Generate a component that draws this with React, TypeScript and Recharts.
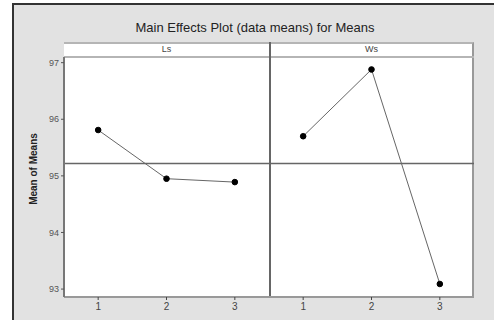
import React from 'react';
import { LineChart, Line, XAxis, YAxis, ReferenceLine } from 'recharts';

// factor levels and their data means
const levels = ['1', '2', '3'];
const lsMeans = [95.81, 94.95, 94.89];
const wsMeans = [95.7, 96.88, 93.09];
const yTicks = [93, 94, 95, 96, 97];
const panels = ['Ls', 'Ws'];

const grandMean = lsMeans.reduce((s, v) => s + v, 0) / lsMeans.length;

const chartData = [
  ...levels.map((lv, i) => ({ key: `Ls-${lv}`, level: lv, ls: lsMeans[i] })),
  ...levels.map((lv, i) => ({ key: `Ws-${lv}`, level: lv, ws: wsMeans[i] })),
];

const font = '"Liberation Sans", Arial, sans-serif';

const App: React.FC = () => {
  return (
    <div style={{ position: 'absolute', left: 0, top: 0, width: 494, height: 325, background: '#fff', fontFamily: font }}>
      {/* grey frame */}
      <div
        style={{
          position: 'absolute',
          left: 12,
          top: 3,
          width: 482,
          height: 317,
          background: '#e2e2e2',
          borderLeft: '2px solid #333',
          borderTop: '2px solid #333',
          boxSizing: 'border-box',
        }}
      />
      <div style={{ position: 'absolute', left: 0, width: 510, top: 20, textAlign: 'center', fontSize: 13, color: '#222' }}>
        Main Effects Plot (data means) for Means
      </div>
      {/* plot box with panel header strip */}
      <div
        style={{
          position: 'absolute',
          left: 64,
          top: 42,
          width: 410,
          height: 255,
          background: '#fff',
          borderTop: '2px solid #b5b5b5',
          borderRight: '2px solid #999',
          boxSizing: 'border-box',
        }}
      />
      <div style={{ position: 'absolute', left: 64, top: 56, width: 410, height: 2, background: '#b5b5b5' }} />
      <div style={{ position: 'absolute', left: 269, top: 42, width: 2, height: 255, background: '#666' }} />
      {panels.map((p, i) => (
        <div
          key={p}
          style={{ position: 'absolute', left: 64 + i * 205, width: 205, top: 44, textAlign: 'center', fontSize: 9, color: '#444' }}
        >
          {p}
        </div>
      ))}
      <div
        style={{
          position: 'absolute',
          left: 33,
          top: 169,
          transform: 'translate(-50%, -50%) rotate(-90deg)',
          whiteSpace: 'nowrap',
          fontSize: 10,
          fontWeight: 'bold',
          color: '#222',
        }}
      >
        Mean of Means
      </div>
      <div style={{ position: 'absolute', left: 0, top: 0 }}>
        <LineChart width={494} height={325} data={chartData} margin={{ top: 57, right: 20, bottom: 0, left: 0 }}>
          <XAxis
            dataKey="key"
            scale="band"
            height={28}
            tickFormatter={(v: string) => v.split('-')[1]}
            tick={{ fill: '#444', fontSize: 10, fontFamily: font }}
            tickSize={3}
            tickMargin={3}
            axisLine={{ stroke: '#999', strokeWidth: 2 }}
            tickLine={{ stroke: '#444' }}
            interval={0}
          />
          <YAxis
            width={64}
            domain={[92.86, 97.1]}
            ticks={yTicks}
            allowDataOverflow
            tick={{ fill: '#555', fontSize: 9, fontFamily: font }}
            tickSize={3}
            tickMargin={2}
            axisLine={{ stroke: '#777', strokeWidth: 2 }}
            tickLine={{ stroke: '#555' }}
          />
          <ReferenceLine y={grandMean} stroke="#666" strokeWidth={1.5} />
          <Line dataKey="ls" stroke="#666" strokeWidth={1} dot={{ r: 2.8, fill: '#000', stroke: '#000' }} isAnimationActive={false} />
          <Line dataKey="ws" stroke="#666" strokeWidth={1} dot={{ r: 2.8, fill: '#000', stroke: '#000' }} isAnimationActive={false} />
        </LineChart>
      </div>
    </div>
  );
};

export default App;
